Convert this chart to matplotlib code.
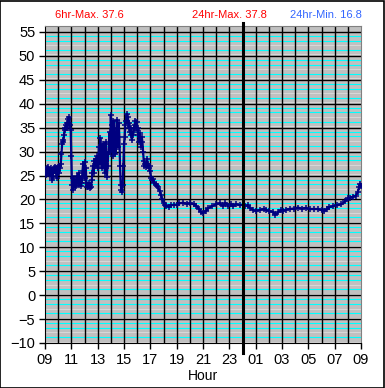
import numpy as np
import matplotlib
matplotlib.use("Agg")
import matplotlib.pyplot as plt

# hours after 09:00, temperature
hours = [
    0.00, 0.05, 0.10, 0.15, 0.20, 0.25, 0.30, 0.35, 0.40, 0.45, 0.50, 0.55, 0.60, 0.65, 0.70,
    0.75, 0.80, 0.85, 0.90, 0.95, 1.00, 1.05, 1.10, 1.15, 1.20, 1.25, 1.30, 1.35, 1.40, 1.45,
    1.50, 1.55, 1.60, 1.65, 1.70, 1.75, 1.80, 1.85, 1.90, 1.95, 2.00, 2.05, 2.10, 2.15, 2.20,
    2.25, 2.30, 2.35, 2.40, 2.45, 2.50, 2.55, 2.60, 2.65, 2.70, 2.75, 2.80, 2.85, 2.90, 2.95,
    3.00, 3.05, 3.10, 3.15, 3.20, 3.25, 3.30, 3.35, 3.40, 3.45, 3.50, 3.55, 3.60, 3.65, 3.70,
    3.75, 3.80, 3.85, 3.90, 3.95, 4.00, 4.05, 4.10, 4.15, 4.20, 4.25, 4.30, 4.35, 4.40, 4.45,
    4.50, 4.55, 4.60, 4.65, 4.70, 4.75, 4.80, 4.85, 4.90, 4.95, 5.00, 5.05, 5.10, 5.15, 5.20,
    5.25, 5.30, 5.35, 5.40, 5.45, 5.50, 5.55, 5.60, 5.65, 5.70, 5.75, 5.80, 5.85, 5.90, 5.95,
    6.00, 6.05, 6.10, 6.15, 6.20, 6.25, 6.30, 6.35, 6.40, 6.45, 6.50, 6.55, 6.60, 6.65, 6.70,
    6.75, 6.80, 6.85, 6.90, 6.95, 7.00, 7.05, 7.10, 7.15, 7.20, 7.25, 7.30, 7.35, 7.40, 7.45,
    7.50, 7.55, 7.60, 7.65, 7.70, 7.75, 7.80, 7.85, 7.90, 7.95, 8.00, 8.05, 8.10, 8.20, 8.30,
    8.40, 8.50, 8.60, 8.70, 8.80, 8.90, 9.00, 9.10, 9.20, 9.40, 9.60, 9.80, 10.0, 10.2, 10.5,
    10.8, 11.0, 11.3, 11.5, 11.7, 11.85, 12.0, 12.2, 12.4, 12.7, 13.0, 13.3, 13.5, 13.7, 13.9,
    14.1, 14.3, 14.5, 14.8, 15.0, 15.2, 15.4, 15.6, 15.8, 16.0, 16.3, 16.6, 16.8, 17.0, 17.3,
    17.5, 17.7, 17.9, 18.1, 18.3, 18.6, 18.9, 19.2, 19.5, 19.8, 20.1, 20.4, 20.7, 21.0, 21.2,
    21.4, 21.6, 21.9, 22.2, 22.5, 22.8, 23.0, 23.2, 23.4, 23.6, 23.75, 23.85, 23.92, 24.0,
]
temps = [
    25.5, 26.0, 25.2, 26.5, 25.8, 26.8, 25.5, 26.2, 25.0, 26.5, 25.6, 24.0, 25.0, 26.5, 26.0,
    26.8, 25.5, 26.5, 24.5, 26.0, 26.8, 25.5, 27.0, 26.5, 27.5, 29.5, 31.5, 32.5, 32.0, 33.5,
    35.0, 34.5, 35.5, 36.0, 35.0, 36.8, 36.0, 37.2, 35.5, 34.5, 29.0, 23.0, 22.0, 24.5, 23.0,
    22.5, 24.0, 22.8, 23.5, 25.0, 24.0, 25.5, 23.0, 24.5, 23.5, 22.8, 24.0, 26.0, 27.5, 25.0,
    27.8, 24.5, 26.5, 23.5, 22.5, 23.0, 22.5, 23.5, 22.3, 23.0, 22.5, 24.0, 25.5, 27.0, 25.5,
    28.0, 27.0, 28.5, 27.5, 29.0, 26.5, 28.5, 31.0, 27.5, 32.8, 29.0, 30.5, 26.5, 31.5, 27.0,
    30.0, 25.5, 32.0, 28.0, 24.7, 27.0, 29.5, 31.5, 34.0, 30.0, 37.6, 32.0, 35.5, 29.0, 36.5,
    30.3, 33.0, 29.5, 34.0, 36.6, 35.0, 31.0, 36.0, 33.0, 27.0, 23.0, 22.0, 21.5, 23.0, 27.0,
    31.5, 33.0, 35.5, 36.5, 37.8, 36.5, 37.2, 35.0, 36.0, 34.0, 35.0, 33.5, 32.5, 34.0, 33.5,
    35.0, 35.5, 36.5, 35.0, 36.2, 34.6, 35.0, 33.5, 32.0, 33.8, 32.5, 31.0, 33.0, 32.0, 30.0,
    28.0, 27.0, 27.5, 26.8, 27.2, 28.5, 27.5, 27.0, 26.5, 27.0, 26.0, 24.5, 24.0, 24.2, 23.5,
    23.2, 22.8, 22.5, 21.8, 21.0, 20.0, 19.3, 18.8, 18.6, 18.5, 18.8, 18.9, 18.9, 19.2, 19.3,
    19.1, 19.2, 19.0, 18.6, 18.0, 17.3, 17.2, 17.6, 18.2, 18.6, 19.0, 19.2, 18.6, 19.3, 18.7,
    19.0, 18.6, 19.0, 18.8, 18.9, 18.6, 18.8, 18.2, 17.8, 17.6, 17.8, 18.0, 17.8, 17.6, 17.4,
    16.8, 17.3, 17.8, 17.6, 17.9, 18.0, 18.1, 18.3, 18.1, 18.2, 18.0, 18.0, 18.0, 17.8, 17.5,
    18.0, 18.4, 18.6, 18.8, 19.0, 19.6, 20.2, 20.4, 20.6, 20.8, 21.5, 22.5, 23.3, 22.8,
]

tick_hours = list(range(0, 25, 2))
tick_labels = ["09", "11", "13", "15", "17", "19", "21", "23", "01", "03", "05", "07", "09"]
y_ticks = list(range(-10, 56, 5))

plt.rcParams['font.family'] = ['Liberation Sans', 'DejaVu Sans']

fig = plt.figure(figsize=(3.85, 3.88), dpi=100)
fig.patches.append(plt.Rectangle((0.001, 0.001), 0.997, 0.997, transform=fig.transFigure,
                                 fill=False, edgecolor='black', linewidth=1.2))
ax = fig.add_axes([45/385, 45/388, 316/385, 317/388])
ax.set_facecolor('#c0c0c0')

ax.set_xlim(0, 24)
ax.set_ylim(-10, 56.25)

# minor horizontal lines inside each 5-unit band
for b in range(-10, 55, 5):
    for off in [1.24, 3.18, 4.16]:
        ax.axhline(b + off, color='#00ffff', lw=0.8, zorder=1)
    for off in [0.3, 2.2]:
        ax.axhline(b + off, color='#d8d8d8', lw=0.7, zorder=1)
for v in y_ticks[1:]:
    ax.axhline(v, color='black', lw=1.0, zorder=2)
for h in range(1, 24):
    ax.axvline(h, color='black', lw=1.0, zorder=2)

# midnight marker
ax.plot([15, 15], [-0.032, 1.008], color='black', lw=2.2, zorder=4,
        transform=ax.get_xaxis_transform(), clip_on=False)

ax.plot(hours, temps, color='#000080', lw=1.6, marker='+', ms=4, mew=1.1, zorder=3)

ax.set_xticks(tick_hours)
ax.set_xticklabels(tick_labels)
ax.set_yticks(y_ticks)
ax.tick_params(axis='both', labelsize=10.5, length=4, width=1, color='black', pad=3)
ax.set_xlabel("Hour", fontsize=10, labelpad=2)

for s in ['top', 'right']:
    ax.spines[s].set_color('#808080')
for s in ['left', 'bottom']:
    ax.spines[s].set_color('black')

fig.text(55/385, 1 - 15/388, "6hr-Max. 37.6", color='#ff0000', fontsize=8, va='center')
fig.text(192/385, 1 - 15/388, "24hr-Max. 37.8", color='#ff0000', fontsize=8, va='center')
fig.text(290/385, 1 - 15/388, "24hr-Min. 16.8", color='#3366ff', fontsize=8, va='center')

fig.savefig("out.png", dpi=100)
